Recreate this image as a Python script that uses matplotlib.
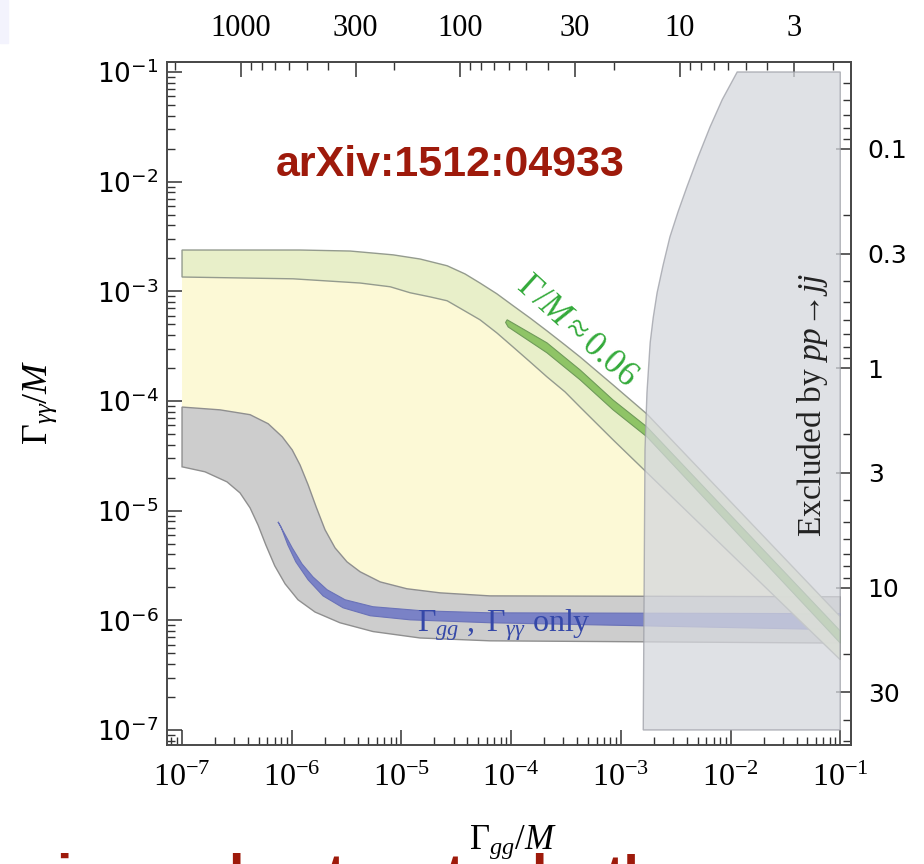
import numpy as np
import matplotlib
matplotlib.use("Agg")
import matplotlib.pyplot as plt
from matplotlib.ticker import FixedLocator, NullFormatter
from matplotlib.patches import Rectangle

plt.rcParams["mathtext.fontset"] = "custom"
plt.rcParams["mathtext.rm"] = "Liberation Serif"
plt.rcParams["mathtext.it"] = "Liberation Serif:italic"
plt.rcParams["mathtext.bf"] = "Liberation Serif:bold"
plt.rcParams["mathtext.sf"] = "DejaVu Sans"

# ---- data ----
# green band (Gamma_gg & Gamma_gamgam, total width free)
green_up_x = [1.0e-7, 1.19e-6, 3.40e-6, 8.4e-6, 1.48e-5, 2.61e-5, 3.80e-5, 5.2e-5, 7.4e-5,
              1.04e-4, 1.49e-4, 2.12e-4, 3.10e-4, 4.25e-4, 8.5e-4, 1.73e-3, 1.0e-1]
green_up_y = [2.38e-3, 2.38e-3, 2.33e-3, 2.15e-3, 1.97e-3, 1.71e-3, 1.44e-3, 1.19e-3, 9.5e-4,
              7.4e-4, 5.7e-4, 4.36e-4, 3.24e-4, 2.52e-4, 1.40e-4, 7.6e-5, 1.08e-6]
green_lo_x = [1.0e-7, 1.03e-6, 4.2e-6, 7.9e-6, 1.20e-5, 1.82e-5, 2.61e-5, 3.80e-5, 5.2e-5,
              7.4e-5, 1.04e-4, 1.49e-4, 2.12e-4, 3.10e-4, 4.25e-4, 8.5e-4, 1.0e-1]
green_lo_y = [1.35e-3, 1.30e-3, 1.19e-3, 1.10e-3, 9.7e-4, 8.9e-4, 8.2e-4, 6.6e-4, 5.5e-4,
              4.18e-4, 3.11e-4, 2.27e-4, 1.66e-4, 1.21e-4, 8.8e-5, 4.42e-5, 4.37e-7]

# inner stripe Gamma/M ~ 0.06
gm_up_x = [8.9e-5, 9.2e-5, 2.12e-4, 4.25e-4, 8.5e-4, 1.73e-3, 1.0e-1]
gm_up_y = [5.2e-4, 5.5e-4, 3.39e-4, 1.92e-4, 1.02e-4, 5.8e-5, 8.0e-7]
gm_lo_x = [9.4e-5, 2.12e-4, 4.25e-4, 8.5e-4, 1.73e-3, 1.0e-1]
gm_lo_y = [4.73e-4, 2.75e-4, 1.56e-4, 8.3e-5, 4.71e-5, 6.2e-7]

# grey band (Gamma_gg, Gamma_gamgam only)
grey_up_x = [1.0e-7, 2.22e-7, 4.17e-7, 6.1e-7, 8.2e-7, 1.01e-6, 1.19e-6, 1.41e-6, 1.67e-6,
             2.01e-6, 2.48e-6, 3.19e-6, 4.2e-6, 6.4e-6, 1.12e-5, 2.25e-5, 6.4e-5, 1.0e-1]
grey_up_y = [8.8e-5, 8.3e-5, 7.5e-5, 6.2e-5, 4.71e-5, 3.58e-5, 2.61e-5, 1.72e-5, 1.08e-5,
             6.7e-6, 4.58e-6, 3.41e-6, 2.77e-6, 2.24e-6, 1.94e-6, 1.78e-6, 1.67e-6, 1.64e-6]
grey_lo_x = [1.0e-7, 1.62e-7, 2.57e-7, 3.38e-7, 4.17e-7, 4.93e-7, 5.8e-7, 7.0e-7, 8.7e-7,
             1.14e-6, 1.63e-6, 2.75e-6, 5.5e-6, 1.48e-5, 6.4e-5, 1.0e-1]
grey_lo_y = [2.51e-5, 2.26e-5, 1.83e-5, 1.45e-5, 1.06e-5, 7.4e-6, 4.88e-6, 3.14e-6, 2.15e-6,
             1.54e-6, 1.19e-6, 9.5e-7, 7.9e-7, 6.9e-7, 6.5e-7, 6.2e-7]

# blue stripe
blue_up_x = [7.5e-7, 8.5e-7, 1.01e-6, 1.24e-6, 1.56e-6, 2.10e-6, 3.06e-6, 5.5e-6, 1.57e-5, 6.4e-5, 1.0e-1]
blue_up_y = [7.9e-6, 6.3e-6, 4.58e-6, 3.27e-6, 2.49e-6, 1.90e-6, 1.54e-6, 1.33e-6, 1.22e-6, 1.17e-6, 1.15e-6]
blue_lo_x = [7.98e-7, 9.2e-7, 1.09e-6, 1.41e-6, 1.93e-6, 2.94e-6, 5.2e-6, 1.20e-5, 6.4e-5, 1.0e-1]
blue_lo_y = [7.1e-6, 4.88e-6, 3.41e-6, 2.34e-6, 1.67e-6, 1.30e-6, 1.10e-6, 1.01e-6, 9.5e-7, 8.2e-7]

# excluded by pp -> jj
excl_x = [1.15e-2, 8.4e-3, 6.5e-3, 5.06e-3, 4.0e-3, 3.32e-3, 2.8e-3, 2.43e-3, 2.14e-3, 1.97e-3,
          1.85e-3, 1.73e-3, 1.66e-3, 1.60e-3, 1.0e-1, 1.0e-1]
excl_y = [1.0e-1, 5.6e-2, 3.15e-2, 1.68e-2, 8.95e-3, 5.3e-3, 3.13e-3, 1.74e-3, 9.7e-4, 5.7e-4,
          3.39e-4, 1.19e-4, 3.58e-5, 1.0e-7, 1.0e-7, 1.0e-1]

x_ticks = [1e-7, 1e-6, 1e-5, 1e-4, 1e-3, 1e-2, 1e-1]
x_labels = [r"$\mathrm{10^{%d}}$" % k for k in range(-7, 0)]
y_labels = [r"$\mathsf{10^{%d}}$" % k for k in range(-7, 0)]
top_ticks = [1000, 300, 100, 30, 10, 3]
top_labels = ["1000", "300", "100", "30", "10", "3"]
right_ticks = [0.1, 0.3, 1, 3, 10, 30]
right_labels = ["0.1", "0.3", "1", "3", "10", "30"]

slide_bits = ["i", "l", "t", "t", "l", "th"]
slide_pos = [56, 228, 326, 445, 531, 605]


def poly(ux, uy, lx, ly):
    return np.concatenate([ux, lx[::-1]]), np.concatenate([uy, ly[::-1]])


fig = plt.figure(figsize=(9.24, 8.64), dpi=100)
fig.patches.append(Rectangle((0, 1 - 43 / 864), 8 / 924, 43 / 864,
                             transform=fig.transFigure, color="#f3f3fd", zorder=0))
ax = fig.add_axes([167 / 924, 1 - 745 / 864, 684 / 924, 683 / 864])
ax.set_xscale("log")
ax.set_yscale("log")
ax.set_xlim(10 ** -7.137, 10 ** -0.902)
ax.set_ylim(10 ** -7.137, 10 ** -0.909)

px, py = poly(green_lo_x, green_lo_y, grey_up_x, grey_up_y)
ax.fill(px, py, color="#fcf9d6", lw=0, zorder=1)

px, py = poly(grey_up_x, grey_up_y, grey_lo_x, grey_lo_y)
ax.fill(px, py, facecolor="#cdcdcd", edgecolor="#8f8f8f", lw=1, zorder=2)

px, py = poly(blue_up_x, blue_up_y, blue_lo_x, blue_lo_y)
ax.fill(px, py, facecolor="#7a82c6", edgecolor="#6a72b8", lw=0.8, zorder=3)

px, py = poly(green_up_x, green_up_y, green_lo_x, green_lo_y)
ax.fill(px, py, facecolor="#e7efc6", edgecolor="#8f968a", lw=1, zorder=4, alpha=0.95)

px, py = poly(gm_up_x, gm_up_y, gm_lo_x, gm_lo_y)
ax.fill(px, py, facecolor="#8fc466", edgecolor="#6f9a5a", lw=0.8, zorder=5)

ax.fill(excl_x, excl_y, facecolor="#d5d7dd", edgecolor="#9c9ea6", lw=1,
        alpha=0.75, zorder=6)

ax.text(4.07e-4, 4.45e-4, r"$\Gamma/M \approx 0.06$", rotation=-42, color="#33aa3a",
        fontsize=25, ha="center", va="center", rotation_mode="anchor", zorder=8)
ax.text(1.39e-5, 9.1e-7, r"$\Gamma_{gg}\ ,\ \Gamma_{\gamma\gamma}$ only", color="#3548a8",
        fontsize=23, family="Liberation Serif", ha="left", va="center", zorder=8)
ax.text(5.6e-2, 9.2e-5, r"Excluded by $pp\!\rightarrow\! jj$", rotation=90,
        fontsize=24, family="Liberation Serif", ha="center", va="center",
        color="#222222", zorder=8)

# axes, ticks
for s in ax.spines.values():
    s.set_color("#4a4a4a")
    s.set_linewidth(1.4)
ax.set_xticks(x_ticks, x_labels)
ax.set_yticks(x_ticks, y_labels)
minors = [n * 10.0 ** k for k in range(-8, 0) for n in range(2, 10)]
ax.xaxis.set_minor_locator(FixedLocator(minors))
ax.yaxis.set_minor_locator(FixedLocator(minors))
ax.xaxis.set_minor_formatter(NullFormatter())
ax.yaxis.set_minor_formatter(NullFormatter())
ax.tick_params(which="both", direction="in", top=False, right=False, color="#333333")
ax.tick_params(which="major", length=11, width=1.1)
ax.tick_params(which="minor", length=6, width=1.0)
ax.tick_params(axis="x", labelsize=23, pad=12)
ax.tick_params(axis="y", labelsize=19, pad=6)

ctop = 0.586
cright = 0.0141
top = ax.secondary_xaxis("top", functions=(lambda x: ctop / np.sqrt(np.clip(x, 1e-300, None)),
                                            lambda t: (ctop / np.clip(t, 1e-300, None)) ** 2))
top.set_xticks(top_ticks, top_labels)
top.xaxis.set_minor_locator(FixedLocator([n * 10.0 ** k for k in range(0, 4) for n in range(2, 10)]))
top.xaxis.set_minor_formatter(NullFormatter())
top.tick_params(which="both", direction="in", color="#333333")
top.tick_params(which="major", length=11, width=1.1, labelsize=22, pad=14,
                labelfontfamily="Liberation Serif")
top.tick_params(which="minor", length=6, width=1.0)

right = ax.secondary_yaxis("right", functions=(lambda y: cright / np.sqrt(np.clip(y, 1e-300, None)),
                                               lambda r: (cright / np.clip(r, 1e-300, None)) ** 2))
right.set_yticks(right_ticks, right_labels)
right.yaxis.set_minor_locator(FixedLocator([n * 10.0 ** k for k in range(-2, 2) for n in range(2, 10)]))
right.yaxis.set_minor_formatter(NullFormatter())
right.tick_params(which="both", direction="in", color="#333333")
right.tick_params(which="major", length=11, width=1.1, labelsize=18, pad=12,
                  labelfontfamily="DejaVu Sans")
right.tick_params(which="minor", length=6, width=1.0)
for sec in (top, right):
    for s in sec.spines.values():
        s.set_color("#4a4a4a")
        s.set_linewidth(1.4)

fig.text(40 / 924, 1 - 402 / 864, r"$\Gamma_{\gamma\gamma}/M$", rotation=90,
         fontsize=26, ha="center", va="center")
fig.text(513 / 924, 1 - 842 / 864, r"$\Gamma_{gg}/M$", fontsize=25, ha="center", va="center")
fig.text(450 / 924, 1 - 165 / 864, "arXiv:1512:04933", fontsize=31, fontweight="bold",
         family="Liberation Sans", color="#9e1a0b", ha="center", va="center")
for bit, xp in zip(slide_bits, slide_pos):
    fig.text(xp / 924, 1 - 853 / 864, bit, fontsize=40, fontweight="bold",
             family="Liberation Sans", color="#9e1a0b", ha="left", va="top")

fig.savefig("out.png", dpi=100)
